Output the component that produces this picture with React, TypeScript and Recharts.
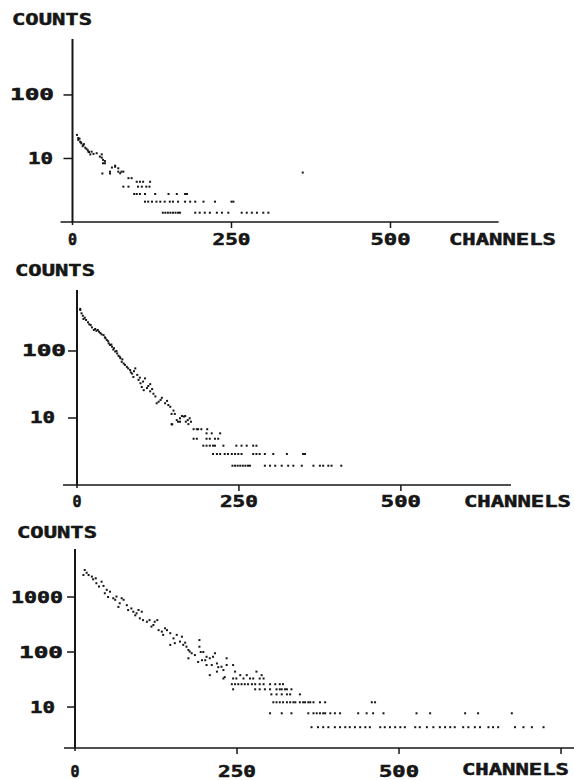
import { Scatter, ScatterChart, XAxis, YAxis } from 'recharts'

type Pt = [number, number]
type TailRow = { counts: number; channels: number[] }

// tick values
const xTicksShort = [0, 250, 500]
const xTicksLong = [0, 250, 500, 750]
const yTicksP1 = [1, 10, 100]
const yTicksP2 = [1, 10, 100]
const yTicksP3 = [1.8, 10, 100, 1000]

// panel 1: steep part of the spectrum, [channel, counts]
const panel1Decay: Pt[] = [
  [7, 23.5], [9, 21], [9, 19.6], [11, 20.5], [12, 18.4], [13, 17.9], [14, 17.3], [16, 15.6], [17, 16.3], [18, 16.8],
  [20, 14.8], [22, 14.2], [24, 13.5], [25, 12.8], [26, 12.6], [28, 11.6], [30, 12.8], [33, 11.8], [38, 12.1], [43, 10.7],
  [46, 11.6], [46, 10.3], [48, 9.5], [51, 9.1], [48, 8.4], [51, 8.4], [47, 5.8], [59, 5.8], [59, 6.2], [62, 7.2],
  [67, 7.7], [67, 7.4], [72, 7], [72, 6.2], [75, 5.85], [77, 6.2], [80, 6.2], [88, 4.9], [93, 4.9], [362, 6.0],
]
// panel 1: low-count rows
const panel1Tail: TailRow[] = [
  { counts: 4.3, channels: [101, 106, 111, 122] },
  { counts: 3.6, channels: [80, 88, 103, 109, 116, 121] },
  { counts: 2.76, channels: [97, 101, 106, 114, 130, 151, 164, 177, 180] },
  { counts: 2.09, channels: [114, 119, 125, 132, 138, 145, 153, 158, 166, 177, 185, 193, 206, 224, 250, 253] },
  { counts: 1.4, channels: [142, 146, 150, 154, 158, 162, 166, 169, 193, 200, 208, 216, 227, 235, 245, 266, 274, 282, 290, 300, 308] },
]

// panel 2
const panel2Decay: Pt[] = [
  [5, 425], [5, 409], [7, 365], [9, 336], [10, 300], [12, 314], [14, 290], [17, 268], [19, 250], [21, 244],
  [23, 225], [26, 206], [28, 213], [30, 200], [32, 206], [34, 194], [36, 185], [38, 177], [41, 173], [43, 160],
  [44, 155], [46, 146], [48, 140], [49, 130], [51, 123], [53, 125], [54, 116], [56, 105], [57, 110], [59, 98],
  [61, 100], [62, 92], [64, 85], [66, 82], [67, 78], [69, 69], [70, 75], [72, 65], [74, 62], [77, 58],
  [79, 55], [82, 52], [83, 48], [85, 46], [87, 41], [88, 50], [90, 55], [93, 44], [95, 37], [97, 40],
  [98, 33], [100, 29], [102, 35], [103, 26], [105, 39], [108, 28], [110, 30], [113, 32], [113, 25], [116, 27],
  [118, 23], [121, 21], [123, 16.6], [126, 17.5], [129, 18.6], [131, 20], [136, 16.6], [139, 18], [141, 15.6], [144, 14.7],
  [146, 11.5], [146, 8.1], [147, 8.0], [149, 12.9], [151, 11.5], [154, 9.3], [156, 8.8], [159, 9.9], [159, 8.8], [162, 10.7],
  [165, 10.5], [167, 10.7], [168, 8.8], [171, 9.3], [172, 8.1], [174, 9.9], [176, 8.8],
]
const panel2Tail: TailRow[] = [
  { counts: 6.8, channels: [180, 185, 187, 192, 201] },
  { counts: 5.9, channels: [200, 208, 221] },
  { counts: 4.9, channels: [180, 185, 200, 205, 213, 218] },
  { counts: 3.86, channels: [195, 200, 205, 210, 213, 226, 246, 254, 262, 272, 277] },
  { counts: 2.9, channels: [210, 216, 221, 228, 233, 239, 244, 249, 254, 272, 277, 282, 290, 303, 324, 349, 352] },
  { counts: 1.94, channels: [240, 244, 248, 252, 256, 260, 264, 267, 290, 298, 306, 316, 326, 334, 347, 365, 375, 380, 388, 393, 408] },
]

// panel 3
const panel3Decay: Pt[] = [
  [13, 2510], [15, 3100], [18, 2760], [21, 2510], [26, 2350], [28, 2100], [32, 2190], [33, 1780], [37, 1550], [41, 1900],
  [44, 1590], [46, 1170], [49, 1350], [51, 1000], [54, 1250], [59, 950], [62, 890], [64, 1020], [67, 660], [69, 770],
  [72, 950], [75, 890], [80, 710], [82, 580], [87, 620], [90, 540], [93, 465], [95, 505], [98, 580], [100, 410],
  [103, 540], [105, 380], [111, 355], [115, 380], [118, 290], [121, 310], [123, 355], [127, 380], [129, 250], [134, 235],
  [136, 205], [139, 270], [142, 250], [147, 220], [147, 135], [152, 177], [154, 145], [157, 205], [162, 155], [165, 190],
  [167, 135], [170, 148], [172, 125], [175, 109], [175, 77], [177, 102], [180, 95], [185, 88], [190, 66], [192, 165],
  [192, 125], [194, 100], [196, 71], [198, 100], [201, 71], [203, 82], [203, 58], [208, 77], [208, 38], [211, 58],
  [213, 82], [216, 95], [219, 62], [219, 44], [221, 53], [226, 54], [229, 47], [229, 33], [231, 35], [234, 77],
  [234, 58], [244, 58], [244, 33], [247, 44], [249, 33], [255, 38], [260, 33], [265, 38], [270, 33], [275, 33],
  [280, 44], [285, 33], [288, 38], [291, 33],
]
const panel3Tail: TailRow[] = [
  { counts: 26, channels: [242, 247, 252, 257, 262, 267, 273, 278, 285, 291, 301, 309, 316, 321] },
  { counts: 21, channels: [244, 278, 285, 293, 301, 311, 316, 319, 324, 327, 334] },
  { counts: 17, channels: [303, 311, 319, 327, 332, 347] },
  { counts: 12.2, channels: [306, 311, 316, 321, 327, 332, 337, 340, 347, 352, 355, 360, 363, 368, 378, 386, 458, 463] },
  { counts: 7.7, channels: [301, 319, 334, 360, 368, 373, 378, 383, 386, 394, 401, 409, 437, 450, 460, 476, 527, 548, 602, 622, 674] },
  { counts: 4.3, channels: [365, 375, 383, 391, 401, 409, 417, 424, 432, 440, 448, 455, 471, 478, 486, 494, 502, 509, 525, 532, 543, 553, 563, 571, 579, 586, 599, 607, 617, 625, 638, 645, 653, 679, 692, 705, 723] },
]

const FONT = '"DejaVu Sans Mono", "Liberation Mono", monospace'
const INK = '#161616'

// ink widths of the wide plotter font
const textWidths: Record<string, number> = {
  '10': 25, '100': 44, '1000': 52, '250': 38, '500': 40, COUNTS: 80, CHANNELS: 107,
}

function toRows(decay: Pt[], tail: TailRow[]) {
  return [
    ...decay.map(([ch, c]) => ({ ch, c })),
    ...tail.flatMap((r) => r.channels.map((ch) => ({ ch, c: r.counts }))),
  ]
}

function PlotText({ px, py, text, anchor = 'start' }: { px: number; py: number; text: string; anchor?: 'start' | 'middle' | 'end' }) {
  const w = textWidths[text]
  return (
    <text x={px} y={py} textAnchor={anchor} fontFamily={FONT} fontWeight={700} fontSize={15} fill={INK}
      stroke={INK} strokeWidth={0.5}
      {...(w ? { textLength: w, lengthAdjust: 'spacingAndGlyphs' } : {})}>
      {text}
    </text>
  )
}

type PanelCfg = {
  top: number
  height: number
  axisX: number
  plotTop: number
  plotBottom: number
  plotRight: number
  xMax: number
  xTicks: number[]
  yDomain: [number, number]
  yTicks: number[]
  yLabelRight: Record<string, number>
  tickLen: number
  baseExt: number
  xLabelBase: number
  countsX: number
  countsBase: number
  channelsX: number
  channelsBase: number
  data: { ch: number; c: number }[]
}

const panels: PanelCfg[] = [
  {
    top: 0, height: 250, axisX: 72.5, plotTop: 39, plotBottom: 222, plotRight: 498.6, xMax: 670,
    xTicks: xTicksShort, yDomain: [1, 760], yTicks: yTicksP1, yLabelRight: { '100': 54, '10': 53 },
    tickLen: 9, baseExt: 12, xLabelBase: 245, countsX: 12, countsBase: 25, channelsX: 449, channelsBase: 245,
    data: toRows(panel1Decay, panel1Tail),
  },
  {
    top: 255, height: 260, axisX: 77, plotTop: 35, plotBottom: 230, plotRight: 511, xMax: 670,
    xTicks: xTicksShort, yDomain: [1, 813], yTicks: yTicksP2, yLabelRight: { '100': 66, '10': 55 },
    tickLen: 9, baseExt: 14, xLabelBase: 252, countsX: 15, countsBase: 21, channelsX: 464, channelsBase: 252,
    data: toRows(panel2Decay, panel2Tail),
  },
  {
    top: 515, height: 265, axisX: 75, plotTop: 34, plotBottom: 233, plotRight: 574, xMax: 770,
    xTicks: xTicksLong, yDomain: [1.8, 7460], yTicks: yTicksP3, yLabelRight: { '1000': 63, '100': 63, '10': 55 },
    tickLen: 8, baseExt: 11, xLabelBase: 262, countsX: 17, countsBase: 23, channelsX: 462, channelsBase: 260,
    data: toRows(panel3Decay, panel3Tail),
  },
]

function Dot(props: any) {
  const { cx, cy } = props
  if (cx == null || cy == null) return null
  return <rect x={cx - 1} y={cy - 1} width={2} height={2} fill={INK} />
}

function SpectrumPanel({ cfg }: { cfg: PanelCfg }) {
  const yTick = (props: any) => {
    const { y, payload } = props
    const v = payload.value
    const isBase = v === cfg.yDomain[0]
    const len = isBase ? cfg.baseExt : cfg.tickLen
    return (
      <g>
        <line x1={cfg.axisX - len} x2={cfg.axisX} y1={y} y2={y} stroke={INK} strokeWidth={1.5} />
        {!isBase && <PlotText px={cfg.yLabelRight[String(v)]} py={y + 5.5} text={String(v)} anchor="end" />}
      </g>
    )
  }
  const xTick = (props: any) => {
    const { x, payload } = props
    const v = payload.value
    return (
      <g>
        <line x1={x} x2={x} y1={cfg.plotBottom} y2={cfg.plotBottom + (v === 0 ? 3 : 6)} stroke={INK} strokeWidth={1.5} />
        {v !== 750 && <PlotText px={x} py={cfg.xLabelBase} text={String(v)} anchor="middle" />}
      </g>
    )
  }
  return (
    <div style={{ position: 'absolute', left: 0, top: cfg.top }}>
      <ScatterChart width={574} height={cfg.height}
        margin={{ top: cfg.plotTop, right: 574 - cfg.plotRight, bottom: 0, left: 0 }}>
        <XAxis type="number" dataKey="ch" domain={[0, cfg.xMax]} allowDataOverflow ticks={cfg.xTicks} interval={0}
          height={cfg.height - cfg.plotBottom} tickLine={false} tickSize={0} tickMargin={0}
          axisLine={{ stroke: INK, strokeWidth: 1.5 }} tick={xTick}
          label={<PlotText px={cfg.channelsX} py={cfg.channelsBase} text="CHANNELS" />} />
        <YAxis type="number" dataKey="c" scale="log" domain={cfg.yDomain} allowDataOverflow ticks={cfg.yTicks} interval={0}
          width={cfg.axisX} tickLine={false} tickSize={0} tickMargin={0}
          axisLine={{ stroke: INK, strokeWidth: 2 }} tick={yTick}
          label={<PlotText px={cfg.countsX} py={cfg.countsBase} text="COUNTS" />} />
        <Scatter data={cfg.data} shape={Dot} isAnimationActive={false} />
      </ScatterChart>
    </div>
  )
}

export default function App() {
  return (
    <div style={{ position: 'absolute', left: 0, top: 0, width: 574, height: 780, background: '#fff' }}>
      {panels.map((p) => <SpectrumPanel key={p.top} cfg={p} />)}
    </div>
  )
}
